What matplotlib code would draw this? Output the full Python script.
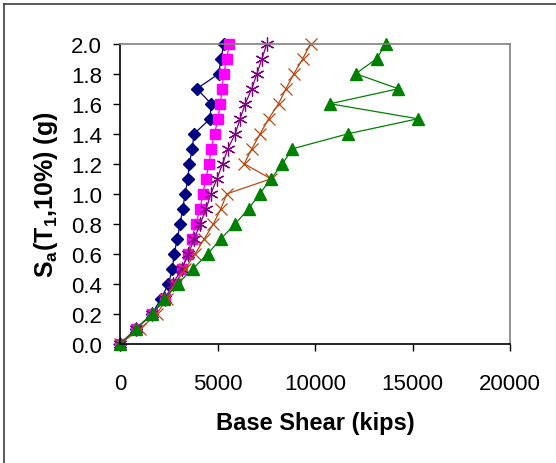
import matplotlib
matplotlib.use("Agg")
import matplotlib.pyplot as plt
from matplotlib.lines import Line2D

plt.rcParams["font.family"] = ["Liberation Sans", "DejaVu Sans"]
plt.rcParams["mathtext.fontset"] = "custom"
plt.rcParams["mathtext.bf"] = "Liberation Sans:bold"
plt.rcParams["mathtext.rm"] = "Liberation Sans"

# Sa levels (g) shared by all series
sa = [0.0, 0.1, 0.2, 0.3, 0.4, 0.5, 0.6, 0.7, 0.8, 0.9, 1.0,
      1.1, 1.2, 1.3, 1.4, 1.5, 1.6, 1.7, 1.8, 1.9, 2.0]

# base shear (kips)
shear_diamond = [0, 820, 1630, 2100, 2480, 2690, 2770, 2945, 3080, 3220, 3340,
                 3475, 3560, 3700, 3800, 4620, 4675, 3940, 5070, 5170, 5340]
shear_square = [0, 820, 1660, 2310, 2880, 3170, 3475, 3680, 3890, 4110, 4250,
                4400, 4570, 4675, 4850, 5020, 5140, 5240, 5310, 5480, 5600]
shear_star = [0, 820, 1660, 2310, 2700, 3170, 3510, 3800, 4110, 4420, 4660,
              4970, 5260, 5530, 5910, 6160, 6420, 6760, 7020, 7280, 7530]
shear_cross = [0, 1030, 1880, 2400, 2830, 3340, 3850, 4320, 4790, 5170, 5480,
               7740, 6370, 6760, 7190, 7620, 8130, 8510, 8920, 9370, 9780]
shear_triangle = [0, 820, 1630, 2280, 2950, 3730, 4490, 5170, 5910, 6590, 7160,
                  7740, 8330, 8840, 11690, 15270, 10770, 14270, 12090, 13160, 13640]

fig = plt.figure(figsize=(5.56, 4.64), dpi=100)
ax = fig.add_axes([120 / 556, 1 - 345 / 464, 390 / 556, 300.3 / 464])

style = dict(linewidth=0.9, clip_on=False)
ax.plot(shear_diamond, sa, color="#000080", marker="D", markersize=6, **style)
ax.plot(shear_square, sa, color="#FF00FF", marker="s", markersize=7.5, **style)
ax.plot(shear_star, sa, color="#800080", marker=(6, 2, 0), markersize=10,
        markeredgewidth=0.9, **style)
ax.plot(shear_cross, sa, color="#B84A14", marker="x", markersize=8,
        markeredgewidth=0.9, **style)
ax.plot(shear_triangle, sa, color="#008000", marker="^", markersize=9, **style)

ax.set_xlim(0, 20000)
ax.set_ylim(0, 2.0)
ax.set_xticks([0, 5000, 10000, 15000, 20000])
ax.set_yticks([0.0, 0.2, 0.4, 0.6, 0.8, 1.0, 1.2, 1.4, 1.6, 1.8, 2.0])
ax.set_yticklabels([f"{v:.1f}" for v in ax.get_yticks()])
ax.tick_params(axis="both", direction="out", length=5, width=1, labelsize=16,
               color="black")
ax.tick_params(axis="x", pad=16)
ax.tick_params(axis="y", pad=8)

for side in ("top", "right"):
    ax.spines[side].set_color("#808080")
for side in ("left", "bottom"):
    ax.spines[side].set_color("black")
for side in ("top", "right", "left", "bottom"):
    ax.spines[side].set_linewidth(1.2)
ax.get_xticklines()[-2].set_color("#808080")

ax.set_xlabel("Base Shear (kips)", fontsize=17, fontweight="bold", labelpad=12)
ax.set_ylabel(r"S$_\mathbf{a}$(T$_\mathbf{1}$,10%) (g)", fontsize=18,
              fontweight="bold", labelpad=8)

# chart-area frame (left and top edges visible)
fig.add_artist(Line2D([3.5 / 556, 3.5 / 556], [0, 1 - 5 / 464],
                      transform=fig.transFigure, color="#404040", linewidth=1.2))
fig.add_artist(Line2D([3.5 / 556, 1], [1 - 5 / 464, 1 - 5 / 464],
                      transform=fig.transFigure, color="#404040", linewidth=1.2))

fig.savefig("out.png", dpi=100)
